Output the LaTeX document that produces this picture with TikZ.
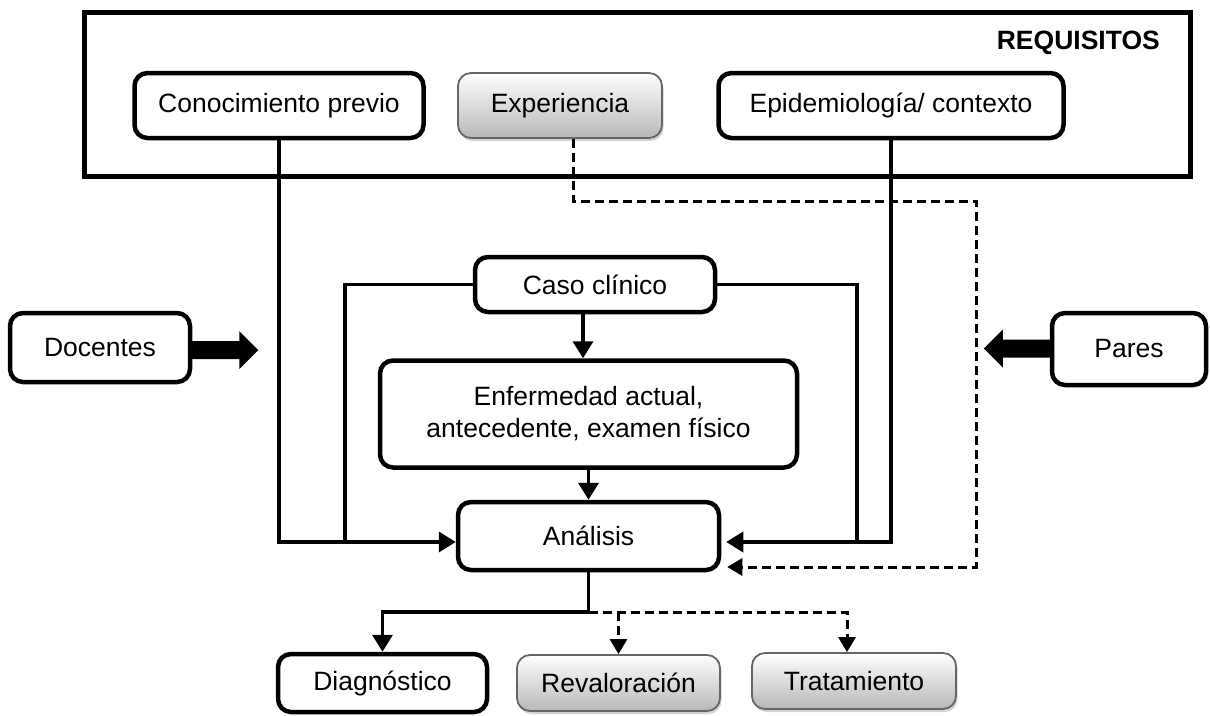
\documentclass[tikz,border=0pt]{standalone}
\usepackage{fontspec}
\setmainfont{Liberation Sans}
\usetikzlibrary{calc,shadows,arrows.meta}
\begin{document}
\begin{tikzpicture}[x=1pt,y=-1pt,
  txt/.style={font=\fontsize{26.5}{32}\selectfont},
  box/.style={txt,draw,line width=4.5pt,rounded corners=13pt,align=center,inner sep=0pt,fill=white},
  gbox/.style={txt,draw=black!60,line width=1.8pt,rounded corners=13pt,align=center,inner sep=0pt,
    top color=white,bottom color=black!28,
    drop shadow={shadow xshift=1.5pt,shadow yshift=-3pt,opacity=0.35}},
  conn/.style={line width=3.6pt},
  dconn/.style={line width=3pt,dash pattern=on 9pt off 5pt},
  tip/.style={-{Triangle[length=17pt,width=20pt]}},
  tipd/.style={-{Triangle[length=15pt,width=17pt]}}
]
\useasboundingbox (0,0) rectangle (1210,715);

% requirements frame
\node[draw,line width=5pt,minimum width=1106pt,minimum height=164pt,inner sep=0pt] (req) at (637,94) {};
\node[txt,font=\fontsize{26.5}{32}\selectfont\bfseries,anchor=east,inner sep=0pt] (reqt) at (1160,43) {REQUISITOS};

\node[box,minimum width=289pt,minimum height=65pt] (cono) at (279,105.5) {Conocimiento previo};
\node[gbox,minimum width=204pt,minimum height=65pt] (exper) at (560,105.5) {Experiencia};
\node[box,minimum width=345pt,minimum height=65pt] (epi) at (891,105.5) {Epidemiología/ contexto};

% center column
\node[box,minimum width=240pt,minimum height=55pt] (caso) at (595,284.5) {Caso clínico};
\node[box,minimum width=417pt,minimum height=107pt] (enf) at (588.5,414) {Enfermedad actual,\\antecedente, examen físico};
\node[box,minimum width=261pt,minimum height=68pt] (anal) at (588.5,536) {Análisis};

% sides
\node[box,minimum width=180pt,minimum height=69pt] (doc) at (100,347.5) {Docentes};
\node[box,minimum width=154pt,minimum height=72pt] (pares) at (1129,349) {Pares};

% outcomes
\node[box,minimum width=209pt,minimum height=58pt] (diag) at (382.5,683) {Diagnóstico};
\node[gbox,minimum width=203pt,minimum height=56pt] (rev) at (618.5,683) {Revaloración};
\node[gbox,minimum width=204pt,minimum height=56pt] (trat) at (854,681) {Tratamiento};

% junction coordinates
\coordinate (ljoin) at (345,542);
\coordinate (rjoin) at (857,542);
\coordinate (d1) at (976,201);
\coordinate (br) at (588.5,612);

% connectors
\draw[conn,tip] (cono.south) |- ([yshift=-6pt]anal.west);
\draw[conn] (caso.west) -| (ljoin);
\draw[conn] (caso.east) -| (rjoin);
\draw[conn,tip,shorten >=5pt] (epi.south) |- ([yshift=-6pt]anal.east);
\draw[dconn,tipd,shorten >=6pt] ([xshift=13pt]exper.south) |- (d1) |- ([yshift=-31pt]anal.east);
\draw[conn,tip] ([xshift=-12pt]caso.south) -- ([xshift=-12pt]caso.south |- enf.north);
\draw[conn,tip] (enf.south) -- (anal.north);
\draw[conn,tip] (anal.south) -- (br) -| (diag.north);
\draw[dconn,tipd] (br) -| ([xshift=-7pt]trat.north);
\draw[dconn,tipd] (br -| rev.north) -- (rev.north);

% block arrows
\fill ($(doc.east)+(-3,-6.5)$) -- ++(50,0) -- ++(0,-10) -- ++(19,19) -- ++(-19,19) -- ++(0,-10) -- ++(-50,0) -- cycle;
\fill ($(pares.west)+(2,-9.5)$) -- ++(-49,0) -- ++(0,-10) -- ++(-19,19) -- ++(19,19) -- ++(0,-10) -- ++(49,0) -- cycle;
\end{tikzpicture}
\end{document}
